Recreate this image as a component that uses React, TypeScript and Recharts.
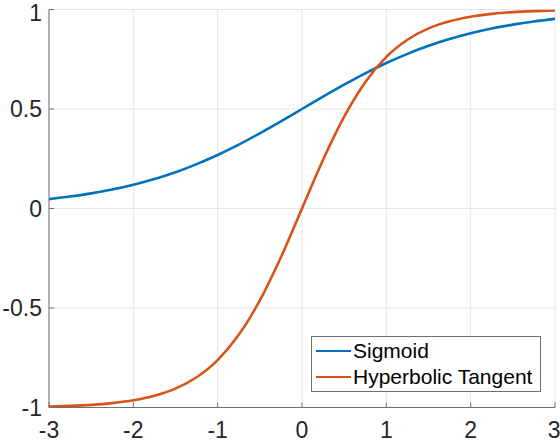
import { LineChart, Line, XAxis, YAxis, CartesianGrid, Legend } from "recharts";

const X = [-3, -2.75, -2.5, -2.25, -2, -1.75, -1.5, -1.25, -1, -0.75, -0.5, -0.25, 0, 0.25, 0.5, 0.75, 1, 1.25, 1.5, 1.75, 2, 2.25, 2.5, 2.75, 3];
const SIGMOID = [0.047, 0.06, 0.076, 0.095, 0.119, 0.148, 0.182, 0.223, 0.269, 0.321, 0.378, 0.438, 0.5, 0.562, 0.622, 0.679, 0.731, 0.777, 0.818, 0.852, 0.881, 0.905, 0.924, 0.94, 0.953];
const TANH = [-0.995, -0.992, -0.987, -0.978, -0.964, -0.941, -0.905, -0.848, -0.762, -0.635, -0.462, -0.245, 0, 0.245, 0.462, 0.635, 0.762, 0.848, 0.905, 0.941, 0.964, 0.978, 0.987, 0.992, 0.995];
const X_TICKS = [-3, -2, -1, 0, 1, 2, 3];
const Y_TICKS = [-1, -0.5, 0, 0.5, 1];

const BLUE = "#0072bd";
const ORANGE = "#d95319";
const AXIS = "#707070";
const TEXT = "#262626";
const FONT = "'Liberation Sans', Arial, Helvetica, sans-serif";

const data = X.map((x, i) => ({ x, sigmoid: SIGMOID[i], tanh: TANH[i] }));

const SERIES = [
  { key: "sigmoid", name: "Sigmoid", color: BLUE },
  { key: "tanh", name: "Hyperbolic Tangent", color: ORANGE },
];

function LegendBox() {
  return (
    <div style={{
      background: "#fff", border: `1px solid ${AXIS}`, padding: "1px 8px 1px 4px",
      fontFamily: FONT, fontSize: 21, color: "#000",
    }}>
      {SERIES.map((s) => (
        <div key={s.key} style={{ display: "flex", alignItems: "center", height: 26 }}>
          <span style={{ display: "inline-block", width: 35, height: 2.6, background: s.color, marginRight: 2 }} />
          <span style={{ lineHeight: "26px", whiteSpace: "nowrap" }}>{s.name}</span>
        </div>
      ))}
    </div>
  );
}

export default function App() {
  const tick = { fill: TEXT, fontSize: 23, fontFamily: FONT };
  return (
    <div style={{ position: "absolute", left: 0, top: 0, background: "#fff" }}>
      <LineChart width={560} height={442} data={data}
        margin={{ top: 9.5, right: 5, bottom: 0, left: 0 }}>
        <CartesianGrid stroke="#e6e6e6" strokeWidth={1} />
        <XAxis dataKey="x" type="number" domain={[-3, 3]} ticks={X_TICKS}
          height={34.5} stroke={AXIS} tick={tick} tickSize={-5} tickMargin={19}
          allowDataOverflow />
        <XAxis xAxisId="top" orientation="top" type="number" domain={[-3, 3]} ticks={X_TICKS}
          height={0} stroke={AXIS} tick={false} tickSize={-5} />
        <YAxis type="number" domain={[-1, 1]} ticks={Y_TICKS} width={49}
          stroke={AXIS} tick={tick} tickSize={-5} tickMargin={12} allowDataOverflow />
        <YAxis yAxisId="right" orientation="right" type="number" domain={[-1, 1]} ticks={Y_TICKS}
          width={0} stroke={AXIS} tick={false} tickSize={-5} />
        {SERIES.map((s) => (
          <Line key={s.key} type="monotone" dataKey={s.key} name={s.name} stroke={s.color}
            strokeWidth={2.6} dot={false} isAnimationActive={false} />
        ))}
        <Legend layout="vertical" align="center" verticalAlign="middle" content={LegendBox}
          wrapperStyle={{ left: 311, top: 336, width: "auto", height: "auto" }} />
      </LineChart>
    </div>
  );
}
